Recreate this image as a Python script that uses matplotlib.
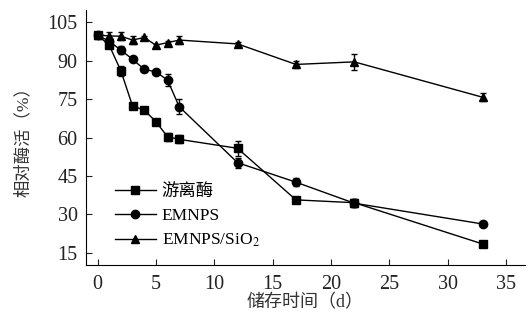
import numpy as np
import matplotlib.pyplot as plt

plt.rcParams['font.family'] = ['Liberation Serif', 'Noto Sans CJK SC']
plt.rcParams['mathtext.fontset'] = 'stix'

# data
days = [0, 1, 2, 3, 4, 5, 6, 7, 12, 17, 22, 33]
free_enz = [100, 96.0, 86.0, 72.3, 70.7, 66.2, 60.3, 59.3, 55.8, 35.7, 34.6, 18.5]
free_err = [0.8, 1.2, 2.0, 0.6, 0.6, 0.6, 1.5, 1.5, 3.0, 0.6, 1.5, 0.6]
emnps = [100, 97.5, 94.1, 90.5, 86.6, 85.6, 82.4, 72.0, 50.2, 42.6, 34.4, 26.3]
emnps_err = [0.6, 1.0, 1.5, 0.6, 0.6, 0.6, 2.5, 3.0, 2.0, 1.5, 1.5, 0.6]
sio2 = [100, 99.6, 99.5, 98.0, 99.0, 96.0, 97.0, 98.0, 96.5, 88.5, 89.5, 75.7]
sio2_err = [0.6, 1.5, 1.5, 1.5, 0.6, 0.6, 0.6, 1.5, 0.6, 1.5, 3.0, 1.5]

labels = ['游离酶', 'EMNPS', 'EMNPS/SiO$_2$']
markers = ['s', 'o', '^']

fig = plt.figure(figsize=(5.3, 3.24), dpi=100)
ax = fig.add_axes([0.162, 0.182, 0.828, 0.787])

handles = []
for y, e, m, lab in zip([free_enz, emnps, sio2], [free_err, emnps_err, sio2_err], markers, labels):
    c = ax.errorbar(days, y, yerr=e, marker=m, color='black', lw=1.0, ms=6,
                    capsize=2.5, elinewidth=1.0, capthick=1.0, label=lab)
    handles.append(c[0])

ax.set_xlim(-1, 36.6)
ax.set_ylim(10.3, 109.7)
ax.set_xticks(np.arange(0, 36, 5))
ax.set_yticks(np.arange(15, 106, 15))
ax.spines['top'].set_visible(False)
ax.spines['right'].set_visible(False)
ax.tick_params(direction='in', length=4, labelsize=14.5, colors='#222222')
ax.tick_params(axis='y', pad=6)
ax.tick_params(axis='x', pad=7)
ax.set_xlabel('储存时间（d）', fontsize=13, color='#333333', labelpad=0)
ax.set_ylabel('相对酶活（%）', fontsize=12.5, color='#333333', labelpad=11)

leg = ax.legend(handles, labels, loc='lower left', bbox_to_anchor=(0.03, 0.0),
                frameon=False, fontsize=12.5, handlelength=2.4, labelspacing=0.45,
                handletextpad=0.3)

fig.savefig('out.png', dpi=100)
